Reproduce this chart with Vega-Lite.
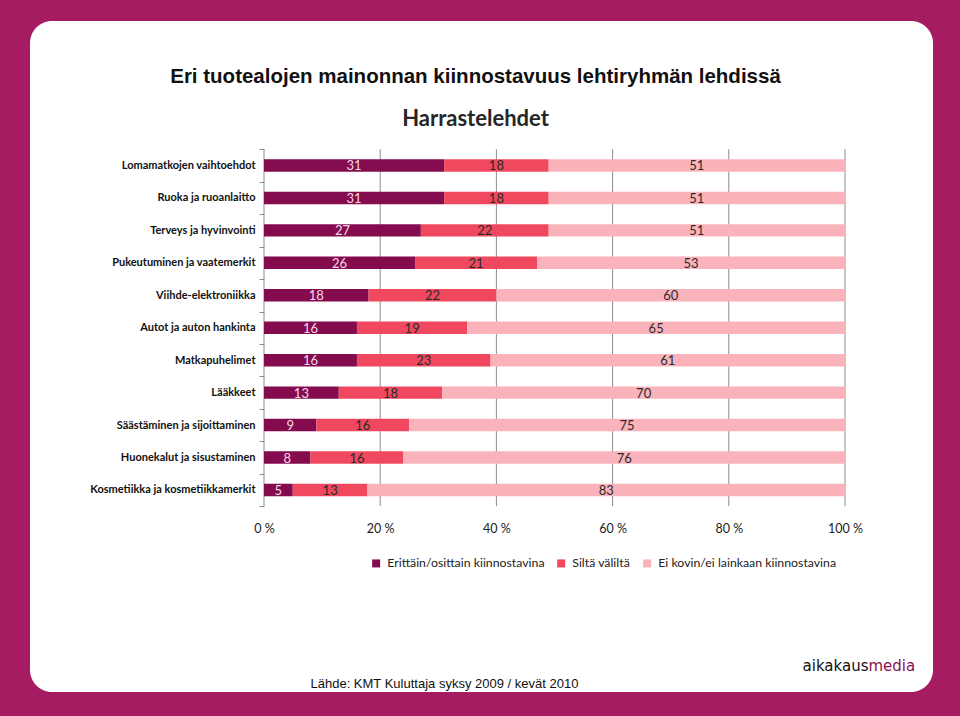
{
  "$schema": "https://vega.github.io/schema/vega-lite/v6.json",
  "width": 903,
  "height": 671,
  "autosize": {"type": "none"},
  "padding": {"left": 30, "top": 21, "right": 27, "bottom": 24},
  "background": "#a61c63",
  "view": {"fill": "#ffffff", "stroke": null, "cornerRadius": 22},
  "title": {
    "text": "Eri tuotealojen mainonnan kiinnostavuus lehtiryhmän lehdissä",
    "subtitle": "Harrastelehdet",
    "anchor": "middle",
    "frame": "group",
    "offset": -115,
    "dx": -6,
    "font": "Liberation Sans",
    "fontSize": 20.5,
    "fontWeight": "bold",
    "color": "#111111",
    "subtitleFont": "Lato",
    "subtitleFontSize": 22,
    "subtitleFontWeight": "bold",
    "subtitleColor": "#262626",
    "subtitlePadding": 22
  },
  "datasets": {
    "bars": [
      {"cat": "Lomamatkojen vaihtoehdot", "k": 1, "s": "Erittäin/osittain kiinnostavina", "v": 31},
      {"cat": "Lomamatkojen vaihtoehdot", "k": 2, "s": "Siltä väliltä", "v": 18},
      {"cat": "Lomamatkojen vaihtoehdot", "k": 3, "s": "Ei kovin/ei lainkaan kiinnostavina", "v": 51},
      {"cat": "Ruoka ja ruoanlaitto", "k": 1, "s": "Erittäin/osittain kiinnostavina", "v": 31},
      {"cat": "Ruoka ja ruoanlaitto", "k": 2, "s": "Siltä väliltä", "v": 18},
      {"cat": "Ruoka ja ruoanlaitto", "k": 3, "s": "Ei kovin/ei lainkaan kiinnostavina", "v": 51},
      {"cat": "Terveys ja hyvinvointi", "k": 1, "s": "Erittäin/osittain kiinnostavina", "v": 27},
      {"cat": "Terveys ja hyvinvointi", "k": 2, "s": "Siltä väliltä", "v": 22},
      {"cat": "Terveys ja hyvinvointi", "k": 3, "s": "Ei kovin/ei lainkaan kiinnostavina", "v": 51},
      {"cat": "Pukeutuminen ja vaatemerkit", "k": 1, "s": "Erittäin/osittain kiinnostavina", "v": 26},
      {"cat": "Pukeutuminen ja vaatemerkit", "k": 2, "s": "Siltä väliltä", "v": 21},
      {"cat": "Pukeutuminen ja vaatemerkit", "k": 3, "s": "Ei kovin/ei lainkaan kiinnostavina", "v": 53},
      {"cat": "Viihde-elektroniikka", "k": 1, "s": "Erittäin/osittain kiinnostavina", "v": 18},
      {"cat": "Viihde-elektroniikka", "k": 2, "s": "Siltä väliltä", "v": 22},
      {"cat": "Viihde-elektroniikka", "k": 3, "s": "Ei kovin/ei lainkaan kiinnostavina", "v": 60},
      {"cat": "Autot ja auton hankinta", "k": 1, "s": "Erittäin/osittain kiinnostavina", "v": 16},
      {"cat": "Autot ja auton hankinta", "k": 2, "s": "Siltä väliltä", "v": 19},
      {"cat": "Autot ja auton hankinta", "k": 3, "s": "Ei kovin/ei lainkaan kiinnostavina", "v": 65},
      {"cat": "Matkapuhelimet", "k": 1, "s": "Erittäin/osittain kiinnostavina", "v": 16},
      {"cat": "Matkapuhelimet", "k": 2, "s": "Siltä väliltä", "v": 23},
      {"cat": "Matkapuhelimet", "k": 3, "s": "Ei kovin/ei lainkaan kiinnostavina", "v": 61},
      {"cat": "Lääkkeet", "k": 1, "s": "Erittäin/osittain kiinnostavina", "v": 13},
      {"cat": "Lääkkeet", "k": 2, "s": "Siltä väliltä", "v": 18},
      {"cat": "Lääkkeet", "k": 3, "s": "Ei kovin/ei lainkaan kiinnostavina", "v": 70},
      {"cat": "Säästäminen ja sijoittaminen", "k": 1, "s": "Erittäin/osittain kiinnostavina", "v": 9},
      {"cat": "Säästäminen ja sijoittaminen", "k": 2, "s": "Siltä väliltä", "v": 16},
      {"cat": "Säästäminen ja sijoittaminen", "k": 3, "s": "Ei kovin/ei lainkaan kiinnostavina", "v": 75},
      {"cat": "Huonekalut ja sisustaminen", "k": 1, "s": "Erittäin/osittain kiinnostavina", "v": 8},
      {"cat": "Huonekalut ja sisustaminen", "k": 2, "s": "Siltä väliltä", "v": 16},
      {"cat": "Huonekalut ja sisustaminen", "k": 3, "s": "Ei kovin/ei lainkaan kiinnostavina", "v": 76},
      {"cat": "Kosmetiikka ja kosmetiikkamerkit", "k": 1, "s": "Erittäin/osittain kiinnostavina", "v": 5},
      {"cat": "Kosmetiikka ja kosmetiikkamerkit", "k": 2, "s": "Siltä väliltä", "v": 13},
      {"cat": "Kosmetiikka ja kosmetiikkamerkit", "k": 3, "s": "Ei kovin/ei lainkaan kiinnostavina", "v": 83}
    ],
    "grid": [
      {"g": 0, "top": "Lomamatkojen vaihtoehdot", "bot": "Kosmetiikka ja kosmetiikkamerkit"},
      {"g": 0.2, "top": "Lomamatkojen vaihtoehdot", "bot": "Kosmetiikka ja kosmetiikkamerkit"},
      {"g": 0.4, "top": "Lomamatkojen vaihtoehdot", "bot": "Kosmetiikka ja kosmetiikkamerkit"},
      {"g": 0.6, "top": "Lomamatkojen vaihtoehdot", "bot": "Kosmetiikka ja kosmetiikkamerkit"},
      {"g": 0.8, "top": "Lomamatkojen vaihtoehdot", "bot": "Kosmetiikka ja kosmetiikkamerkit"},
      {"g": 1, "top": "Lomamatkojen vaihtoehdot", "bot": "Kosmetiikka ja kosmetiikkamerkit"}
    ]
  },
  "layer": [
    {
      "data": {"name": "grid"},
      "mark": {"type": "rule", "color": "#8c8c8c", "strokeWidth": 1},
      "encoding": {
        "x": {
          "field": "g", "type": "quantitative",
          "scale": {"domain": [-0.40275, 1.15147], "nice": false, "zero": false},
          "axis": {
            "orient": "bottom", "offset": -186, "values": [0, 0.2, 0.4, 0.6, 0.8, 1],
            "labelExpr": "round(datum.value*100) + ' %'",
            "domain": false, "ticks": false, "grid": false,
            "labelFont": "Lato", "labelFontSize": 12.5, "labelColor": "#222222", "labelPadding": 16,
            "title": "Lähde: KMT Kuluttaja syksy 2009 / kevät 2010",
            "titleX": 280, "titleY": 177, "titleAlign": "left", "titleBaseline": "middle",
            "titleFont": "Liberation Sans", "titleFontSize": 13, "titleFontWeight": "normal", "titleColor": "#111111"
          }
        },
        "y": {
          "field": "top", "type": "nominal", "bandPosition": 0,
          "axis": {
            "orient": "right", "labels": false, "ticks": false, "domain": false, "grid": false,
            "title": "media", "titleAngle": 0, "titleX": -65, "titleY": 644,
            "titleAlign": "left", "titleBaseline": "middle",
            "titleFont": "DejaVu Sans", "titleFontSize": 15, "titleFontWeight": "normal", "titleColor": "#8a1050"
          }
        },
        "y2": {"field": "bot", "bandPosition": 1}
      }
    },
    {
      "data": {"name": "bars"},
      "mark": {"type": "bar", "height": {"band": 0.385}},
      "encoding": {
        "y": {
          "field": "cat", "type": "nominal", "sort": null,
          "scale": {
            "domain": ["Lomamatkojen vaihtoehdot", "Ruoka ja ruoanlaitto", "Terveys ja hyvinvointi", "Pukeutuminen ja vaatemerkit", "Viihde-elektroniikka", "Autot ja auton hankinta", "Matkapuhelimet", "Lääkkeet", "Säästäminen ja sijoittaminen", "Huonekalut ja sisustaminen", "Kosmetiikka ja kosmetiikkamerkit"],
            "range": [128.25, 485.2],
            "paddingInner": 0, "paddingOuter": 0
          },
          "axis": {
            "orient": "left", "offset": -234, "domain": false, "grid": false,
            "ticks": true, "tickBand": "extent", "tickSize": 5, "tickColor": "#8c8c8c",
            "labelFont": "Lato", "labelFontSize": 11, "labelFontWeight": "bold", "labelColor": "#111111", "labelPadding": 4,
            "title": "aikakaus", "titleAngle": 0, "titleX": 604, "titleY": 644,
            "titleAlign": "right", "titleBaseline": "middle",
            "titleFont": "DejaVu Sans", "titleFontSize": 15, "titleFontWeight": "normal", "titleColor": "#111111"
          }
        },
        "x": {"field": "v", "type": "quantitative", "stack": "normalize"},
        "color": {
          "field": "s", "type": "nominal",
          "scale": {
            "domain": ["Erittäin/osittain kiinnostavina", "Siltä väliltä", "Ei kovin/ei lainkaan kiinnostavina"],
            "range": ["#850b4f", "#f0485f", "#fbb3bb"]
          },
          "legend": {
            "orient": "none", "legendX": 340, "legendY": 536, "direction": "horizontal", "title": null,
            "symbolType": "square", "symbolSize": 64, "symbolStrokeWidth": 0,
            "labelFont": "Lato", "labelFontSize": 12.3, "labelColor": "#222222", "labelLimit": 300,
            "columnPadding": 10, "labelOffset": 5
          }
        },
        "order": {"field": "k", "type": "quantitative"}
      }
    },
    {
      "data": {"name": "bars"},
      "mark": {"type": "text", "font": "Lato", "fontSize": 13, "baseline": "middle", "dy": 1},
      "encoding": {
        "y": {"field": "cat", "type": "nominal", "axis": null},
        "x": {"field": "v", "type": "quantitative", "stack": "normalize", "bandPosition": 0.5},
        "detail": {"field": "s"},
        "order": {"field": "k", "type": "quantitative"},
        "text": {"field": "v", "type": "quantitative"},
        "color": {"condition": {"test": "datum.k === 1", "value": "#f7d9e6"}, "value": "#2a2a2a"}
      }
    }
  ],
  "resolve": {"axis": {"y": "independent"}},
  "config": {"font": "Lato"}
}
